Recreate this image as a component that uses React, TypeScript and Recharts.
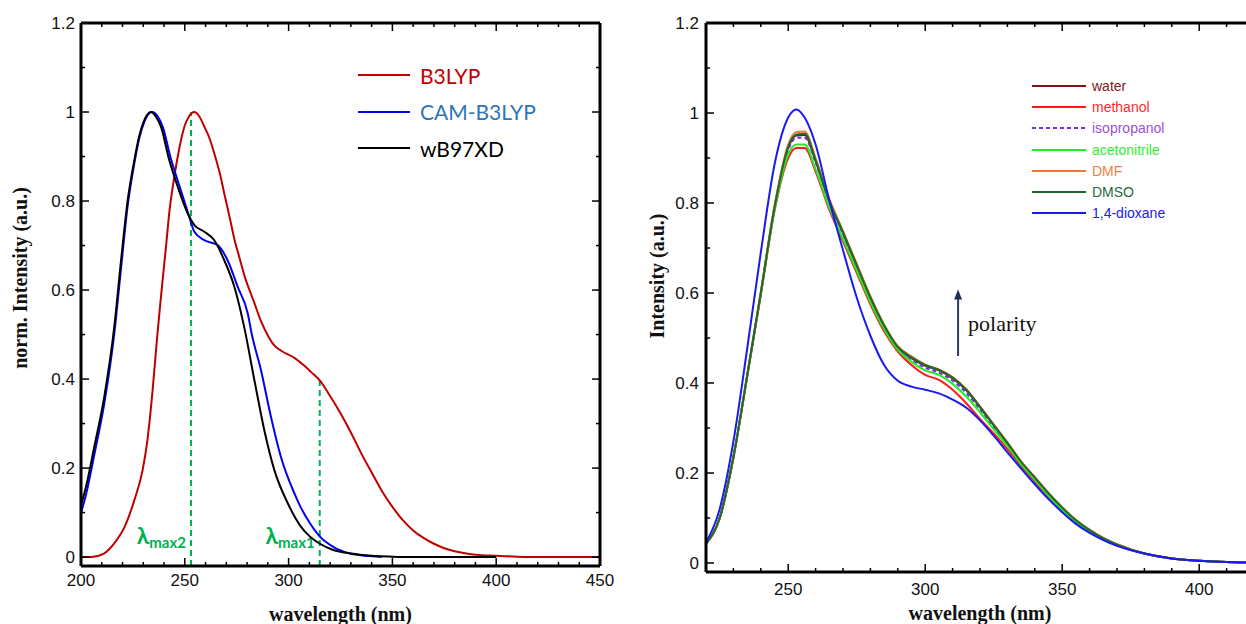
import React from 'react';
import { LineChart, Line, XAxis, YAxis, ReferenceLine } from 'recharts';

// left panel: normalised spectra, one wavelength grid per functional
const b3lypWl = [200, 205, 211, 216, 221, 225.7, 229.7, 232, 234.5, 236.6, 238, 239.3, 241, 242.5, 244.2, 246.6, 249.8, 252, 254.6, 257, 259.4, 262, 264.2, 267, 269, 272, 274, 276.5, 279, 281, 283.5, 286.7, 290, 293, 297, 303, 307, 311, 315, 320, 325, 330, 335, 340, 345, 350, 355, 360, 365, 370, 375, 380, 387, 393, 400, 410, 420, 450];
const b3lypInt = [0, 0, 0.008, 0.031, 0.068, 0.128, 0.196, 0.263, 0.375, 0.49, 0.56, 0.622, 0.7, 0.773, 0.832, 0.9, 0.967, 0.99, 1.0, 0.99, 0.967, 0.94, 0.907, 0.86, 0.817, 0.755, 0.712, 0.67, 0.628, 0.602, 0.571, 0.53, 0.498, 0.476, 0.462, 0.447, 0.432, 0.415, 0.397, 0.362, 0.323, 0.28, 0.233, 0.19, 0.148, 0.113, 0.083, 0.06, 0.043, 0.03, 0.02, 0.013, 0.007, 0.004, 0.003, 0.001, 0, 0];

const camWl = [200, 202.4, 206.4, 211.2, 216.1, 219.3, 222.5, 225.7, 228, 230.5, 234.2, 237, 239.5, 243, 247, 251.4, 254.6, 259.4, 265.8, 270.6, 275.5, 280.3, 282.3, 286.7, 291.5, 296.3, 302.8, 305.5, 310.3, 315.1, 321.5, 329.5, 337, 345];
const camInt = [0.1, 0.14, 0.23, 0.345, 0.505, 0.65, 0.79, 0.885, 0.94, 0.978, 1.0, 0.99, 0.965, 0.9, 0.84, 0.776, 0.731, 0.712, 0.701, 0.667, 0.607, 0.548, 0.5, 0.42, 0.315, 0.225, 0.143, 0.115, 0.076, 0.046, 0.023, 0.008, 0.003, 0.001];

const wbWl = [200, 202.4, 206.4, 211.2, 216.1, 219.3, 222.5, 225.7, 228, 230.5, 233.7, 236, 238.5, 242.5, 246.6, 251.4, 254.6, 259.4, 264.2, 269, 273.9, 278.7, 283.5, 288.3, 293.1, 299.6, 306, 310.3, 315.1, 321.5, 330, 340, 350, 360, 400];
const wbInt = [0.117, 0.158, 0.248, 0.36, 0.52, 0.667, 0.802, 0.892, 0.945, 0.982, 1.0, 0.99, 0.967, 0.892, 0.832, 0.772, 0.746, 0.731, 0.712, 0.667, 0.607, 0.515, 0.398, 0.285, 0.196, 0.121, 0.068, 0.046, 0.03, 0.016, 0.008, 0.003, 0.001, 0, 0];

const leftXTicks = [200, 210, 220, 230, 240, 250, 260, 270, 280, 290, 300, 310, 320, 330, 340, 350, 360, 370, 380, 390, 400, 410, 420, 430, 440, 450];
const leftXMajor = [200, 250, 300, 350, 400, 450];

const yTicks = [0, 0.1, 0.2, 0.3, 0.4, 0.5, 0.6, 0.7, 0.8, 0.9, 1, 1.1, 1.2];
const yMajor = [0, 0.2, 0.4, 0.6, 0.8, 1, 1.2];

// dashed lambda_max markers
const lambdaWl = [253, 315];
const lambdaTop = [1.0, 0.4];
const lambdaSub = ['max2', 'max1'];

// right panel: solvents on a shared grid
const solventWl = [220, 225, 230, 235, 240, 245, 250, 253, 256, 260, 265, 270, 275, 280, 285, 290, 295, 300, 305, 310, 315, 320, 325, 330, 335, 340, 345, 350, 355, 360, 365, 370, 380, 390, 400, 410, 418];
const water = [0.043, 0.1, 0.235, 0.415, 0.6, 0.79, 0.923, 0.95, 0.951, 0.893, 0.803, 0.733, 0.66, 0.588, 0.526, 0.478, 0.455, 0.438, 0.428, 0.41, 0.384, 0.346, 0.306, 0.266, 0.224, 0.189, 0.154, 0.122, 0.094, 0.072, 0.054, 0.041, 0.021, 0.01, 0.005, 0.002, 0.001];
const methanol = [0.043, 0.1, 0.234, 0.413, 0.596, 0.782, 0.9, 0.922, 0.922, 0.87, 0.785, 0.715, 0.645, 0.575, 0.515, 0.47, 0.44, 0.418, 0.407, 0.385, 0.355, 0.32, 0.288, 0.253, 0.216, 0.181, 0.148, 0.116, 0.09, 0.07, 0.053, 0.04, 0.021, 0.01, 0.005, 0.002, 0.001];
const isopropanol = [0.043, 0.1, 0.235, 0.415, 0.599, 0.787, 0.918, 0.945, 0.945, 0.89, 0.8, 0.73, 0.657, 0.586, 0.524, 0.477, 0.452, 0.434, 0.423, 0.405, 0.378, 0.341, 0.302, 0.263, 0.222, 0.188, 0.153, 0.121, 0.093, 0.072, 0.054, 0.041, 0.021, 0.01, 0.005, 0.002, 0.001];
const acetonitrile = [0.043, 0.1, 0.234, 0.414, 0.597, 0.784, 0.908, 0.93, 0.93, 0.875, 0.79, 0.72, 0.65, 0.58, 0.52, 0.474, 0.447, 0.428, 0.418, 0.398, 0.37, 0.335, 0.297, 0.26, 0.22, 0.185, 0.15, 0.118, 0.091, 0.071, 0.054, 0.041, 0.021, 0.01, 0.005, 0.002, 0.001];
const dmf = [0.043, 0.1, 0.236, 0.417, 0.602, 0.794, 0.93, 0.958, 0.959, 0.9, 0.81, 0.738, 0.665, 0.593, 0.53, 0.482, 0.459, 0.441, 0.43, 0.413, 0.386, 0.348, 0.308, 0.268, 0.226, 0.191, 0.156, 0.124, 0.096, 0.074, 0.056, 0.042, 0.021, 0.01, 0.005, 0.002, 0.001];
const dmso = [0.043, 0.1, 0.235, 0.415, 0.6, 0.79, 0.925, 0.952, 0.954, 0.895, 0.805, 0.735, 0.662, 0.59, 0.528, 0.48, 0.457, 0.44, 0.429, 0.412, 0.385, 0.347, 0.307, 0.267, 0.225, 0.19, 0.155, 0.123, 0.095, 0.073, 0.055, 0.041, 0.021, 0.01, 0.005, 0.002, 0.001];
const dioxane = [0.045, 0.12, 0.27, 0.475, 0.69, 0.885, 0.99, 1.008, 0.99, 0.93, 0.806, 0.695, 0.59, 0.505, 0.44, 0.405, 0.392, 0.385, 0.377, 0.363, 0.345, 0.317, 0.283, 0.246, 0.21, 0.175, 0.142, 0.113, 0.087, 0.067, 0.051, 0.038, 0.021, 0.01, 0.005, 0.002, 0.001];

const rightXTicks = [220, 230, 240, 250, 260, 270, 280, 290, 300, 310, 320, 330, 340, 350, 360, 370, 380, 390, 400, 410, 420];
const rightXMajor = [250, 300, 350, 400];

// polarity arrow (wavelength, intensity at foot and head)
const arrowWl = 312;
const arrowFrom = 0.46;
const arrowTo = 0.608;

const pairs = (xs: number[], ys: number[]) => xs.map((x, i) => ({ x, y: ys[i] }));

const leftSeries = [
  { name: 'B3LYP', color: '#c00000', text: '#c00000', data: pairs(b3lypWl, b3lypInt) },
  { name: 'CAM-B3LYP', color: '#0000ee', text: '#2e75b6', data: pairs(camWl, camInt) },
  { name: 'wB97XD', color: '#000000', text: '#000000', data: pairs(wbWl, wbInt) },
];

const solvents = [
  { key: 'water', name: 'water', values: water, color: '#7a1616', text: '#7a2020' },
  { key: 'methanol', name: 'methanol', values: methanol, color: '#ff1a1a', text: '#ff2a2a' },
  { key: 'isopropanol', name: 'isopropanol', values: isopropanol, color: '#7030e8', text: '#9a50d8', dash: '4 3' },
  { key: 'acetonitrile', name: 'acetonitrile', values: acetonitrile, color: '#22ee22', text: '#33ee33' },
  { key: 'dmf', name: 'DMF', values: dmf, color: '#f07830', text: '#f08040' },
  { key: 'dmso', name: 'DMSO', values: dmso, color: '#1e6a2e', text: '#2a6a40' },
  { key: 'dioxane', name: '1,4-dioxane', values: dioxane, color: '#1a1af0', text: '#2222ee' },
];

const solventTable = solventWl.map((wl, i) => {
  const row: Record<string, number> = { wl };
  solvents.forEach((s) => {
    row[s.key] = s.values[i];
  });
  return row;
});

const SANS = '"Liberation Sans", Arial, sans-serif';
const SERIF = '"Liberation Serif", "Times New Roman", serif';
const CAL = 'Lato, "Noto Sans", sans-serif';

type Side = 'bottom' | 'top' | 'left' | 'right';

const fmt = (v: number) => String(Math.round(v * 10) / 10);

// inward frame ticks, majors longer and labelled on bottom/left
const frameTick = (side: Side, majors: number[], gap: number) => (p: any) => {
  const { x, y, payload } = p;
  const v = payload.value;
  const major = majors.some((m) => Math.abs(m - v) < 1e-6);
  const len = major ? 8 : 4;
  let seg = { x1: x, y1: y, x2: x, y2: y };
  if (side === 'bottom') seg = { x1: x, y1: y, x2: x, y2: y - len };
  if (side === 'top') seg = { x1: x, y1: y, x2: x, y2: y + len };
  if (side === 'left') seg = { x1: x, y1: y, x2: x + len, y2: y };
  if (side === 'right') seg = { x1: x, y1: y, x2: x - len, y2: y };
  return (
    <g>
      <line {...seg} stroke="#000" strokeWidth={1.5} />
      {major && side === 'bottom' && (
        <text x={x} y={y + gap} textAnchor="middle" fontSize={17} fontFamily={SANS} fill="#111">
          {fmt(v)}
        </text>
      )}
      {major && side === 'left' && (
        <text x={x - gap} y={y + 6} textAnchor="end" fontSize={17} fontFamily={SANS} fill="#111">
          {fmt(v)}
        </text>
      )}
    </g>
  );
};

const LambdaLabel = (p: any) => {
  const { viewBox, sub } = p;
  if (!viewBox) return null;
  const bottom = viewBox.y + viewBox.height;
  return (
    <text x={viewBox.x - 5} y={bottom - 22} textAnchor="end" fill="#00b050" fontWeight="bold" fontFamily={CAL}>
      <tspan fontSize={23}>λ</tspan>
      <tspan fontSize={15} dy={4}>{sub}</tspan>
    </text>
  );
};

const PolarityArrow = (p: any) => {
  const { x1, y1, x2, y2 } = p;
  const top = Math.min(y1, y2);
  const foot = Math.max(y1, y2);
  const x = (x1 + x2) / 2;
  return (
    <g>
      <line x1={x} y1={foot} x2={x} y2={top + 6} stroke="#2a3a6a" strokeWidth={2} />
      <polygon points={`${x},${top} ${x - 4},${top + 10} ${x + 4},${top + 10}`} fill="#1f2f60" />
      <text x={x + 10} y={(top + foot) / 2 + 8} fontSize={22} fontFamily={SERIF} fill="#111">
        polarity
      </text>
    </g>
  );
};

const axisLine = { stroke: '#000', strokeWidth: 3 };
const titleStyle = { fontFamily: SERIF, fontWeight: 'bold', fontSize: 20, fill: '#111' } as any;

const LeftChart = () => (
  <LineChart width={620} height={624} margin={{ top: 22, right: 19, left: 0, bottom: 0 }}>
    <XAxis
      dataKey="x"
      type="number"
      domain={[200, 450]}
      allowDataOverflow
      ticks={leftXTicks}
      interval={0}
      tickLine={false}
      tickSize={0}
      tickMargin={0}
      axisLine={axisLine}
      height={58}
      tick={frameTick('bottom', leftXMajor, 20)}
      label={{ value: 'wavelength (nm)', position: 'insideBottom', offset: 3, style: titleStyle }}
    />
    <XAxis
      xAxisId="top"
      orientation="top"
      dataKey="x"
      type="number"
      domain={[200, 450]}
      allowDataOverflow
      ticks={leftXTicks}
      interval={0}
      tickLine={false}
      tickSize={0}
      tickMargin={0}
      axisLine={axisLine}
      height={1}
      tick={frameTick('top', leftXMajor, 0)}
    />
    <YAxis
      type="number"
      domain={[-0.02, 1.2]}
      allowDataOverflow
      ticks={yTicks}
      interval={0}
      tickLine={false}
      tickSize={0}
      tickMargin={0}
      axisLine={axisLine}
      width={81}
      tick={frameTick('left', yMajor, 6)}
    />
    <YAxis
      yAxisId="r"
      orientation="right"
      type="number"
      domain={[-0.02, 1.2]}
      allowDataOverflow
      ticks={yTicks}
      interval={0}
      tickLine={false}
      tickSize={0}
      tickMargin={0}
      axisLine={axisLine}
      width={1}
      tick={frameTick('right', yMajor, 0)}
    />
    {lambdaWl.map((wl, i) => (
      <ReferenceLine
        key={wl}
        segment={[
          { x: wl, y: -0.02 },
          { x: wl, y: lambdaTop[i] },
        ]}
        stroke="#00b050"
        strokeWidth={2}
        strokeDasharray="6 4"
        label={<LambdaLabel sub={lambdaSub[i]} />}
      />
    ))}
    {leftSeries.map((s) => (
      <Line
        key={s.name}
        data={s.data}
        dataKey="y"
        name={s.name}
        type="monotone"
        stroke={s.color}
        strokeWidth={2}
        dot={false}
        isAnimationActive={false}
      />
    ))}
  </LineChart>
);

const RightChart = () => (
  <LineChart width={640} height={624} data={solventTable} margin={{ top: 22, right: 11, left: 0, bottom: 0 }}>
    <XAxis
      dataKey="wl"
      type="number"
      domain={[220, 420]}
      allowDataOverflow
      ticks={rightXTicks}
      interval={0}
      tickLine={false}
      tickSize={0}
      tickMargin={0}
      axisLine={axisLine}
      height={52}
      tick={frameTick('bottom', rightXMajor, 23)}
      label={{ value: 'wavelength (nm)', position: 'insideBottom', offset: 4, style: titleStyle }}
    />
    <XAxis
      xAxisId="top"
      orientation="top"
      dataKey="wl"
      type="number"
      domain={[220, 420]}
      allowDataOverflow
      ticks={rightXTicks}
      interval={0}
      tickLine={false}
      tickSize={0}
      tickMargin={0}
      axisLine={axisLine}
      height={1}
      tick={frameTick('top', rightXMajor, 0)}
    />
    <YAxis
      type="number"
      domain={[-0.02, 1.2]}
      allowDataOverflow
      ticks={yTicks}
      interval={0}
      tickLine={false}
      tickSize={0}
      tickMargin={0}
      axisLine={axisLine}
      width={80}
      tick={frameTick('left', yMajor, 7)}
    />
    <YAxis
      yAxisId="r"
      orientation="right"
      type="number"
      domain={[-0.02, 1.2]}
      allowDataOverflow
      ticks={yTicks}
      interval={0}
      tickLine={false}
      tickSize={0}
      tickMargin={0}
      axisLine={axisLine}
      width={1}
      tick={frameTick('right', yMajor, 0)}
    />
    <ReferenceLine
      segment={[
        { x: arrowWl, y: arrowFrom },
        { x: arrowWl, y: arrowTo },
      ]}
      shape={PolarityArrow}
    />
    {solvents.map((s) => (
      <Line
        key={s.key}
        dataKey={s.key}
        name={s.name}
        type="monotone"
        stroke={s.color}
        strokeWidth={2}
        strokeDasharray={s.dash}
        dot={false}
        isAnimationActive={false}
      />
    ))}
  </LineChart>
);

export default function App() {
  return (
    <div style={{ position: 'absolute', left: 0, top: 0, width: 1246, height: 624, overflow: 'hidden', background: '#fff' }}>
      <div style={{ position: 'absolute', left: 0, top: 0 }}>
        <LeftChart />
      </div>
      <div style={{ position: 'absolute', left: 626, top: 0 }}>
        <RightChart />
      </div>

      <div
        style={{
          position: 'absolute',
          left: 20,
          top: 278,
          transform: 'translate(-50%, -50%) rotate(-90deg)',
          whiteSpace: 'nowrap',
          fontFamily: SERIF,
          fontWeight: 'bold',
          fontSize: 20,
          color: '#111',
        }}
      >
        norm. Intensity (a.u.)
      </div>
      <div
        style={{
          position: 'absolute',
          left: 657,
          top: 276,
          transform: 'translate(-50%, -50%) rotate(-90deg)',
          whiteSpace: 'nowrap',
          fontFamily: SERIF,
          fontWeight: 'bold',
          fontSize: 20,
          color: '#111',
        }}
      >
        Intensity (a.u.)
      </div>

      {/* legend, left panel */}
      <div style={{ position: 'absolute', left: 358, top: 57, fontFamily: CAL, fontSize: 21 }}>
        {leftSeries.map((s) => (
          <div key={s.name} style={{ display: 'flex', alignItems: 'center', height: 36.5 }}>
            <div style={{ width: 52, borderTop: `2px solid ${s.color}`, marginRight: 10 }} />
            <span style={{ color: s.text }}>{s.name}</span>
          </div>
        ))}
      </div>

      {/* legend, right panel */}
      <div style={{ position: 'absolute', left: 1032, top: 75, fontFamily: SANS, fontSize: 14 }}>
        {solvents.map((s) => (
          <div key={s.key} style={{ display: 'flex', alignItems: 'center', height: 21.3 }}>
            <svg width={54} height={4} style={{ marginRight: 6 }}>
              <line x1={0} y1={2} x2={54} y2={2} stroke={s.color} strokeWidth={2} strokeDasharray={s.dash} />
            </svg>
            <span style={{ color: s.text }}>{s.name}</span>
          </div>
        ))}
      </div>
    </div>
  );
}
